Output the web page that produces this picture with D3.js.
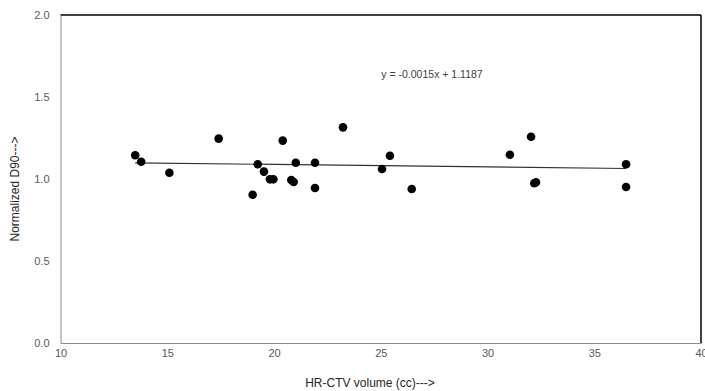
<!DOCTYPE html>
<html>
<head>
<meta charset="utf-8">
<script src="https://cdn.jsdelivr.net/npm/d3@7"></script>
<style>
  body { margin: 0; background: #fff; }
  svg { display: block; font-family: 'Liberation Sans', Arial, sans-serif; }
</style>
</head>
<body>
<div id="chart"></div>
<script>
// HR-CTV volume (cc) vs normalized D90
const volumes = [13.5, 13.78, 15.1, 17.41, 19.0, 19.24, 19.53, 19.81, 19.97, 20.41,
  20.81, 20.92, 21.02, 21.92, 21.92, 23.23, 25.06, 25.43, 26.45, 31.05,
  32.04, 32.19, 32.27, 36.49, 36.49];
const d90 = [1.145, 1.105, 1.038, 1.246, 0.904, 1.09, 1.045, 0.998, 0.998, 1.234,
  0.994, 0.982, 1.099, 1.099, 0.945, 1.315, 1.061, 1.142, 0.939, 1.148,
  1.258, 0.974, 0.98, 1.09, 0.951];
const xTicks = [10, 15, 20, 25, 30, 35, 40];
const yTicks = [0, 0.5, 1.0, 1.5, 2.0];
const slope = -0.0015;
const intercept = 1.1187;
const equation = 'y = -0.0015x + 1.1187';

const width = 705;
const height = 391;
const margin = {top: 15, right: 4, bottom: 48, left: 60.5};

const x = d3.scaleLinear().domain([10, 40]).range([margin.left, width - margin.right]);
const y = d3.scaleLinear().domain([0, 2]).range([height - margin.bottom, margin.top]);

const svg = d3.select('#chart')
    .append('svg')
    .attr('width', width)
    .attr('height', height);

// frame: black top/right, grey axes
svg.append('line')
    .attr('x1', x(10)).attr('x2', x(40))
    .attr('y1', y(2)).attr('y2', y(2))
    .attr('stroke', '#000').attr('stroke-width', 1.5);
svg.append('line')
    .attr('x1', x(40)).attr('x2', x(40))
    .attr('y1', y(2)).attr('y2', y(0))
    .attr('stroke', '#000').attr('stroke-width', 1.5);

const xAxis = svg.append('g')
    .attr('transform', `translate(0,${y(0)})`)
    .call(d3.axisBottom(x).tickValues(xTicks).tickSize(0).tickPadding(6).tickFormat(d3.format('d')));
const yAxis = svg.append('g')
    .attr('transform', `translate(${x(10)},0)`)
    .call(d3.axisLeft(y).tickValues(yTicks).tickSize(0).tickPadding(11).tickFormat(d3.format('.1f')));

[xAxis, yAxis].forEach(ax => {
  ax.select('.domain').attr('stroke', '#8c8c8c').attr('stroke-width', 1);
  ax.selectAll('text').attr('fill', '#595959').attr('font-size', '11px');
});

// trendline over the data range
const xMin = d3.min(volumes);
const xMax = d3.max(volumes);
svg.append('line')
    .attr('x1', x(xMin)).attr('y1', y(slope * xMin + intercept))
    .attr('x2', x(xMax)).attr('y2', y(slope * xMax + intercept))
    .attr('stroke', '#333').attr('stroke-width', 1.2);

svg.selectAll('circle.pt')
    .data(volumes)
    .enter().append('circle')
    .attr('class', 'pt')
    .attr('cx', d => x(d))
    .attr('cy', (d, i) => y(d90[i]))
    .attr('r', 4.3)
    .attr('fill', '#000');

svg.append('text')
    .attr('x', 432)
    .attr('y', 74)
    .attr('dy', '0.35em')
    .attr('text-anchor', 'middle')
    .attr('font-size', '10.5px')
    .attr('fill', '#404040')
    .text(equation);

svg.append('text')
    .attr('x', 370)
    .attr('y', 383)
    .attr('dy', '0.35em')
    .attr('text-anchor', 'middle')
    .attr('font-size', '12px')
    .attr('fill', '#262626')
    .text('HR-CTV volume (cc)--->');

svg.append('text')
    .attr('transform', 'translate(15,189) rotate(-90)')
    .attr('dy', '0.35em')
    .attr('text-anchor', 'middle')
    .attr('font-size', '12px')
    .attr('fill', '#262626')
    .text('Normalized D90--->');
</script>
</body>
</html>
